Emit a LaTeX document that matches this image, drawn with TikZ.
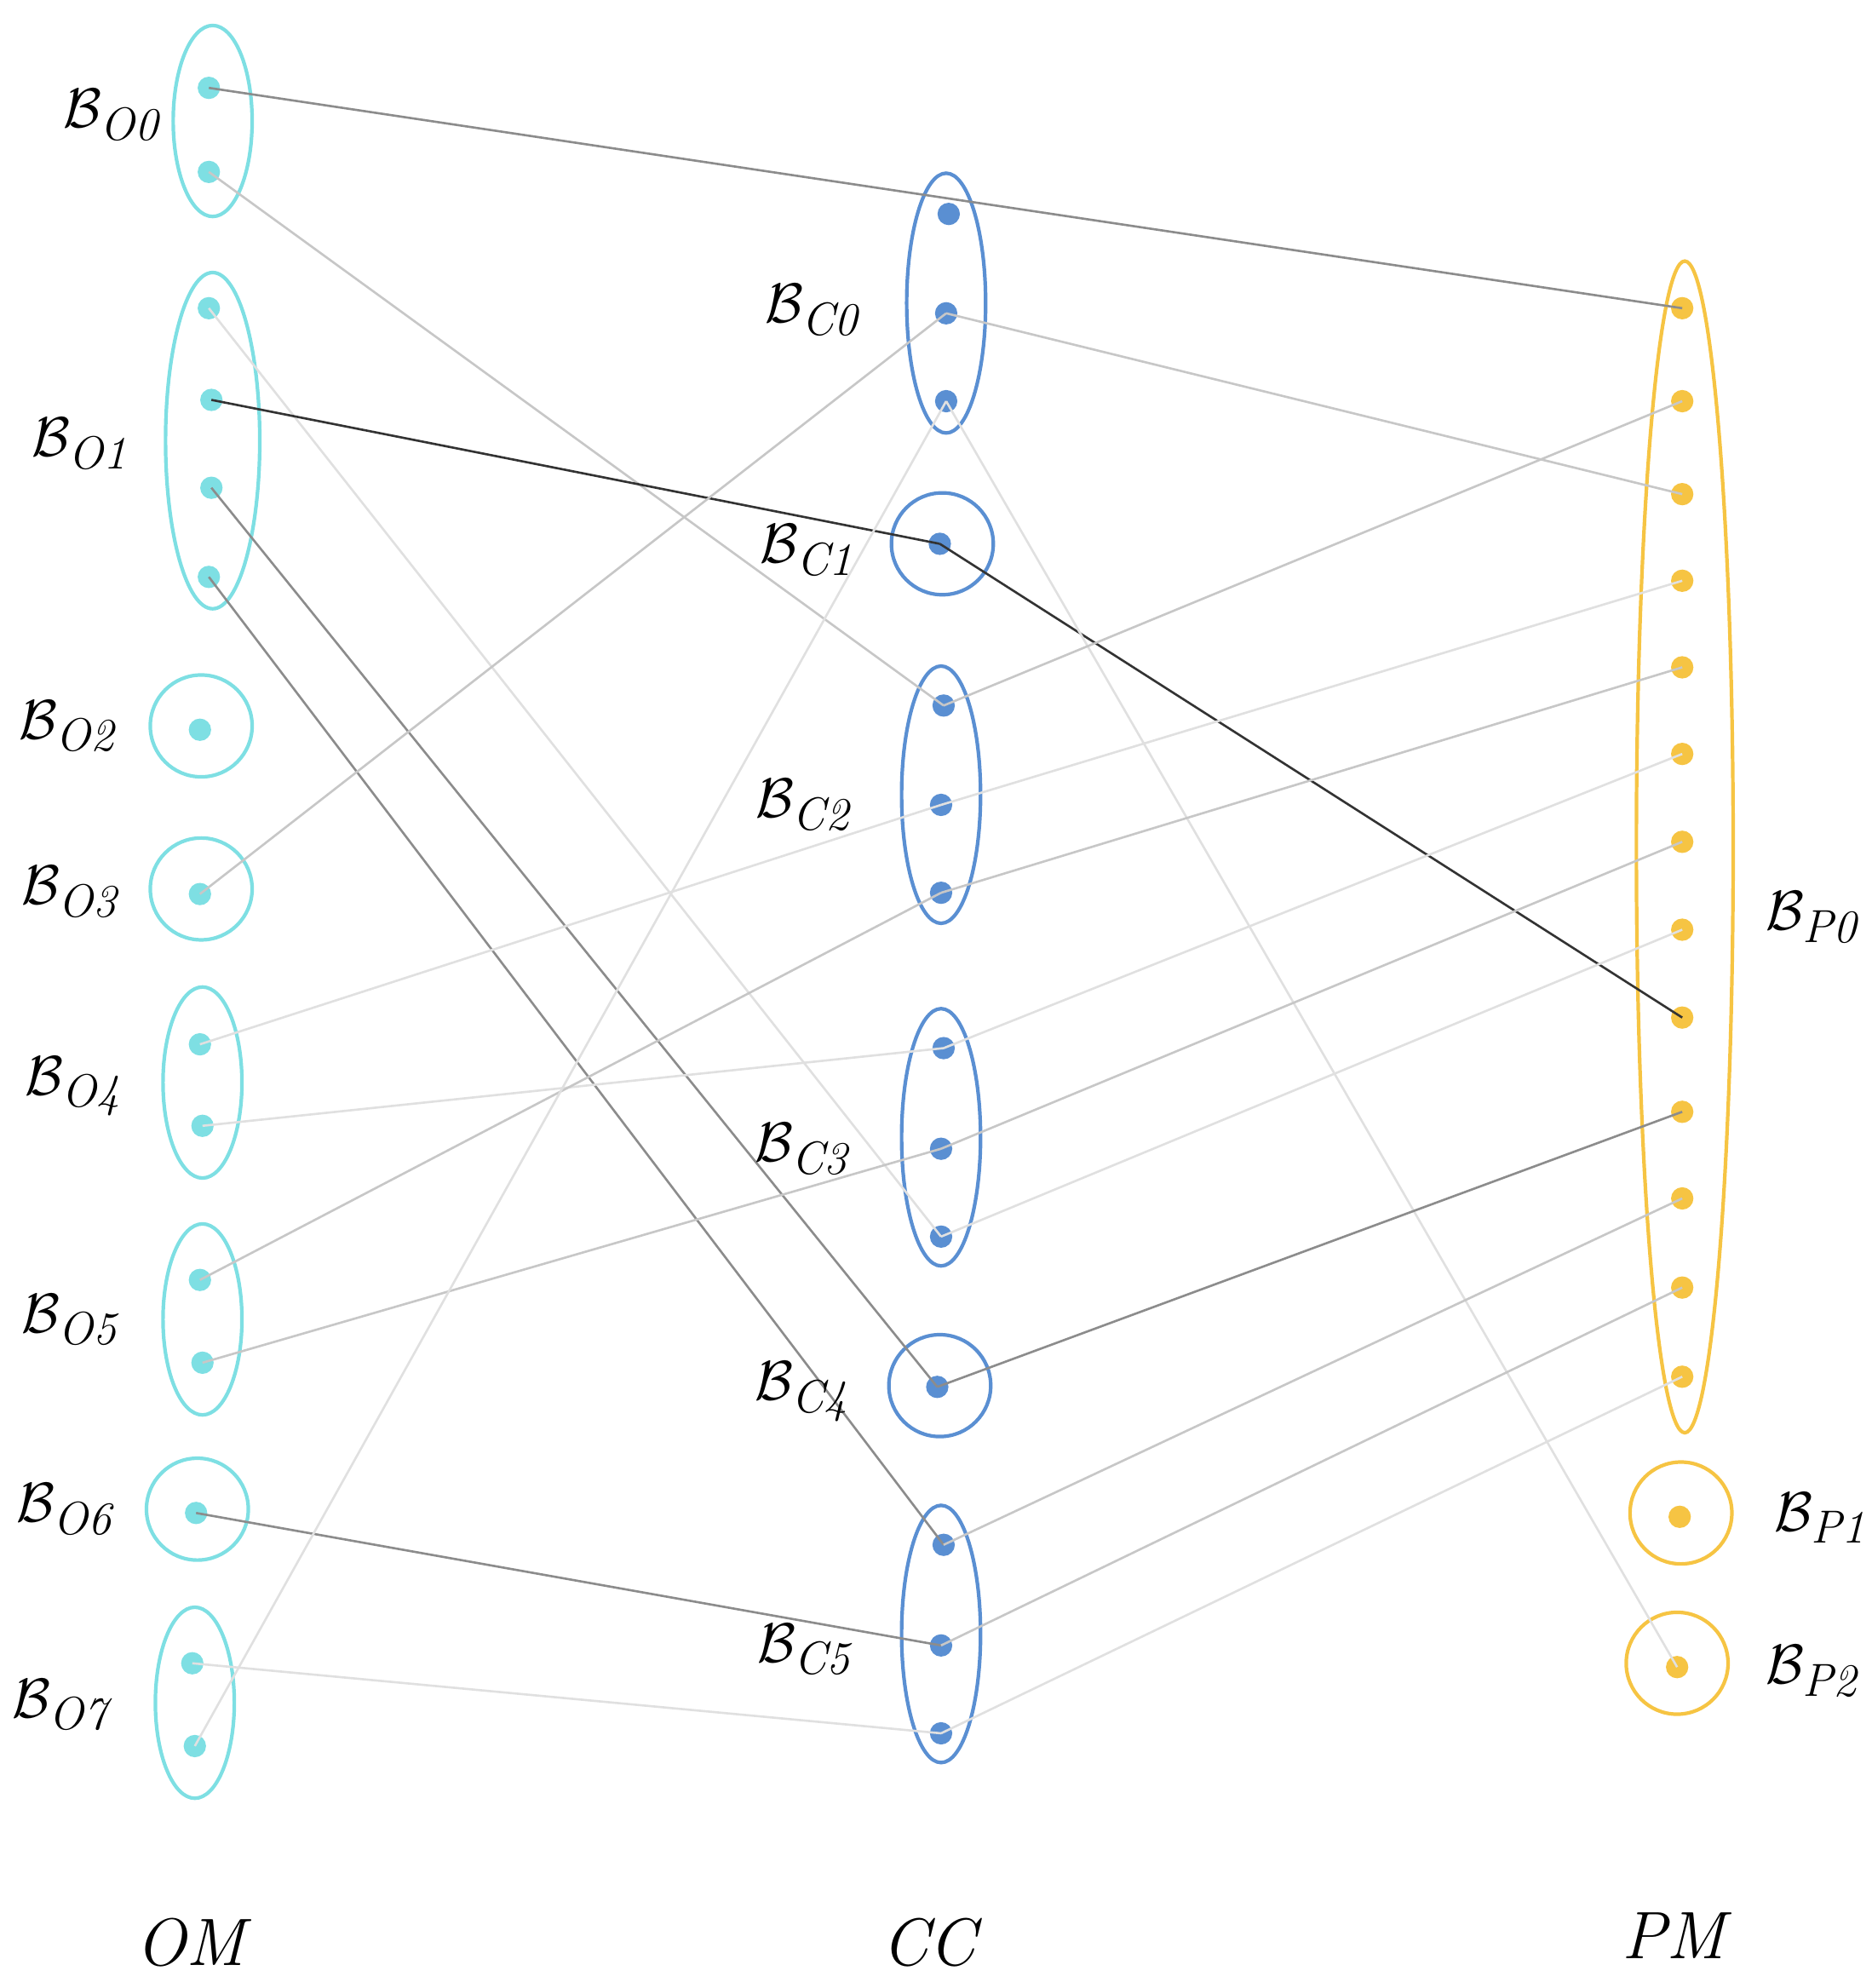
\documentclass[tikz,border=0pt]{standalone}
\usepackage{amsmath}
\definecolor{cyn}{HTML}{7EDFE3}
\definecolor{blu}{HTML}{5A8FD2}
\definecolor{yel}{HTML}{F6C443}
\begin{document}
\begin{tikzpicture}[x=0.02cm,y=-0.02cm,
 cy/.style={draw=cyn,line width=1.6pt},
 bl/.style={draw=blu,line width=1.6pt},
 ye/.style={draw=yel,line width=1.6pt},
 dc/.style={circle,fill=cyn,inner sep=0,minimum size=10pt},
 db/.style={circle,fill=blu,inner sep=0,minimum size=10pt},
 dy/.style={circle,fill=yel,inner sep=0,minimum size=10pt},
 lab/.style={font=\fontsize{30}{36}\selectfont},
 e1/.style={draw=black!80,line width=1pt},
 e2/.style={draw=black!45,line width=1pt},
 e3/.style={draw=black!22,line width=1pt},
 e4/.style={draw=black!12,line width=1pt}]
\useasboundingbox (0,0) rectangle (1470,1561);
% groups
\draw[cy] (167,95) ellipse (31 and 75);
\draw[cy] (167,346) ellipse (37 and 132);
\draw[cy] (158,570) circle (40);
\draw[cy] (158,698) circle (40);
\draw[cy] (159,850) ellipse (31 and 75);
\draw[cy] (159,1036) ellipse (31 and 75);
\draw[cy] (155,1185) circle (40);
\draw[cy] (153,1337) ellipse (31 and 75);
\draw[bl] (743,238) ellipse (31 and 102);
\draw[bl] (740,427) circle (40);
\draw[bl] (739,624) ellipse (31 and 101);
\draw[bl] (739,893) ellipse (31 and 101);
\draw[bl] (738,1088) circle (40);
\draw[bl] (739,1283) ellipse (31 and 101);
\draw[ye] (1323,665) ellipse (38 and 460);
\draw[ye] (1320,1188) circle (40);
\draw[ye] (1317,1306) circle (40);
% dots
\node[dc] (o0a) at (164,69) {}; \node[dc] (o0b) at (164,135) {};
\node[dc] (o1a) at (164,242) {}; \node[dc] (o1b) at (166,314) {};
\node[dc] (o1c) at (166,383) {}; \node[dc] (o1d) at (164,453) {};
\node[dc] (o2) at (157,573) {}; \node[dc] (o3) at (157,702) {};
\node[dc] (o4a) at (157,820) {}; \node[dc] (o4b) at (159,884) {};
\node[dc] (o5a) at (157,1005) {}; \node[dc] (o5b) at (159,1070) {};
\node[dc] (o6) at (154,1188) {};
\node[dc] (o7a) at (151,1306) {}; \node[dc] (o7b) at (153,1371) {};
\node[db] (c0a) at (745,168) {}; \node[db] (c0b) at (743,246) {}; \node[db] (c0c) at (743,315) {};
\node[db] (c1) at (738,427) {};
\node[db] (c2a) at (741,554) {}; \node[db] (c2b) at (739,632) {}; \node[db] (c2c) at (739,701) {};
\node[db] (c3a) at (741,823) {}; \node[db] (c3b) at (739,902) {}; \node[db] (c3c) at (739,971) {};
\node[db] (c4) at (736,1089) {};
\node[db] (c5a) at (741,1213) {}; \node[db] (c5b) at (739,1292) {}; \node[db] (c5c) at (739,1361) {};
\foreach \i/\y in {1/242,2/315,3/388,4/456,5/524,6/592,7/661,8/730,9/799,10/873,11/941,12/1011,13/1081}
  \node[dy] (p\i) at (1321,\y) {};
\node[dy] (p1d) at (1319,1191) {}; \node[dy] (p2d) at (1317,1309) {};
% edges
\draw[e2] (o0a.center) -- (p1.center);
\draw[e3] (o0b.center) -- (c2a.center);
\draw[e4] (o1a.center) -- (c3c.center);
\draw[e1] (o1b.center) -- (c1.center);
\draw[e1] (c1.center) -- (p9.center);
\draw[e2] (o1c.center) -- (c4.center);
\draw[e2] (o1d.center) -- (c5a.center);
\draw[e3] (o3.center) -- (c0b.center);
\draw[e4] (o4a.center) -- (c2b.center);
\draw[e4] (o4b.center) -- (c3a.center);
\draw[e3] (o5a.center) -- (c2c.center);
\draw[e3] (o5b.center) -- (c3b.center);
\draw[e2] (o6.center) -- (c5b.center);
\draw[e4] (o7a.center) -- (c5c.center);
\draw[e4] (o7b.center) -- (c0c.center);
\draw[e3] (c0b.center) -- (p3.center);
\draw[e4] (c0c.center) -- (p2d.center);
\draw[e3] (c2a.center) -- (p2.center);
\draw[e4] (c2b.center) -- (p4.center);
\draw[e3] (c2c.center) -- (p5.center);
\draw[e4] (c3a.center) -- (p6.center);
\draw[e3] (c3b.center) -- (p7.center);
\draw[e4] (c3c.center) -- (p8.center);
\draw[e2] (c4.center) -- (p10.center);
\draw[e3] (c5a.center) -- (p11.center);
\draw[e3] (c5b.center) -- (p12.center);
\draw[e4] (c5c.center) -- (p13.center);
% labels
\node[lab] (lo0) at (90,90) {$\mathcal{B}_{\mathit{O0}}$};
\node[lab] (lo1) at (65,348) {$\mathcal{B}_{\mathit{O1}}$};
\node[lab] (lo2) at (55,570) {$\mathcal{B}_{\mathit{O2}}$};
\node[lab] (lo3) at (57,700) {$\mathcal{B}_{\mathit{O3}}$};
\node[lab] (lo4) at (60,853) {$\mathcal{B}_{\mathit{O4}}$};
\node[lab] (lo5) at (57,1036) {$\mathcal{B}_{\mathit{O5}}$};
\node[lab] (lo6) at (53,1185) {$\mathcal{B}_{\mathit{O6}}$};
\node[lab] (lo7) at (50,1342) {$\mathcal{B}_{\mathit{O7}}$};
\node[lab] (lc0) at (640,243) {$\mathcal{B}_{\mathit{C0}}$};
\node[lab] (lc1) at (636,432) {$\mathcal{B}_{\mathit{C1}}$};
\node[lab] (lc2) at (633,632) {$\mathcal{B}_{\mathit{C2}}$};
\node[lab] (lc3) at (632,902) {$\mathcal{B}_{\mathit{C3}}$};
\node[lab] (lc4) at (632,1093) {$\mathcal{B}_{\mathit{C4}}$};
\node[lab] (lc5) at (634,1295) {$\mathcal{B}_{\mathit{C5}}$};
\node[lab] (lp0) at (1425,720) {$\mathcal{B}_{\mathit{P0}}$};
\node[lab] (lp1) at (1432,1192) {$\mathcal{B}_{\mathit{P1}}$};
\node[lab] (lp2) at (1425,1312) {$\mathcal{B}_{\mathit{P2}}$};
\node[lab] (om) at (152,1525) {\textit{OM}};
\node[lab] (cc) at (732,1525) {\textit{CC}};
\node[lab] (pm) at (1317,1520) {\textit{PM}};
\end{tikzpicture}
\end{document}
